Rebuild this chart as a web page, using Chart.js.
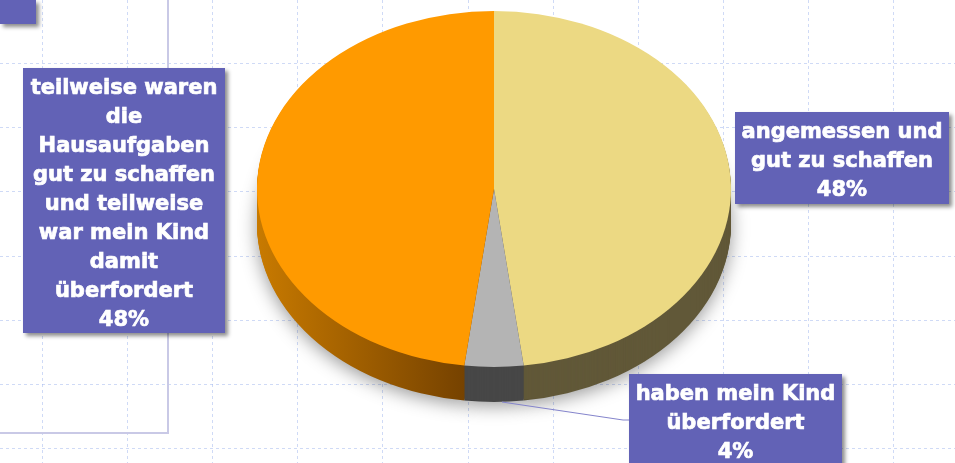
<!DOCTYPE html>
<html>
<head>
<meta charset="utf-8">
<script src="https://cdn.jsdelivr.net/npm/chart.js@4.4.1/dist/chart.umd.min.js"></script>
<style>
    html, body { margin: 0; padding: 0; background: #fff; overflow: hidden; }
    #wrap { position: relative; width: 955px; height: 463px; }
</style>
</head>
<body>
<div id="wrap"><canvas id="chartHausaufgaben"></canvas></div>
<script>
// Daten
const categories = [
    ['angemessen und', 'gut zu schaffen'],
    ['haben mein Kind', 'überfordert'],
    ['teilweise waren', 'die', 'Hausaufgaben', 'gut zu schaffen', 'und teilweise', 'war mein Kind', 'damit', 'überfordert']
];
const values = [48, 4, 48];

// Farben
const topColors = ['#ecd983', '#b4b4b4', '#ff9a00'];
const sideColors = ['#615838', '#474747', ['#c87a00', '#6a3a00']];

// Beschriftungs-Kästen (Position im Bild)
const labelBoxes = [
    { x: 735, y: 112, w: 214, h: 92 },
    { x: 629, y: 374, w: 213, h: 100, leader: true },
    { x: 23, y: 68, w: 202, h: 265 }
];

const TILT = { rx: 237, ry: 178, depth: 35 };
const BOX_COLOR = '#6262b6';

function squash(ctx, arc) {
    const sx = TILT.rx / arc.outerRadius;
    const sy = TILT.ry / arc.outerRadius;
    ctx.translate(arc.x, arc.y);
    ctx.scale(sx, sy);
    ctx.translate(-arc.x, -arc.y);
}

function sideFill(ctx, arc, i) {
    const c = sideColors[i];
    if (!Array.isArray(c)) return c;
    const g = ctx.createLinearGradient(arc.x - arc.outerRadius, 0, arc.x, 0);
    g.addColorStop(0, c[0]);
    g.addColorStop(1, c[1]);
    return g;
}

const pie3d = {
    id: 'pie3d',
    beforeDraw(chart) {
        const ctx = chart.ctx;
        const W = chart.width, H = chart.height;
        ctx.save();
        ctx.fillStyle = '#fff';
        ctx.fillRect(0, 0, W, H);
        // gestricheltes Raster
        ctx.strokeStyle = 'rgba(160,182,238,0.5)';
        ctx.lineWidth = 1;
        ctx.setLineDash([3, 3]);
        for (let x = 42; x < W; x += 85.1) {
            ctx.beginPath();
            ctx.moveTo(Math.round(x) + 0.5, 0);
            ctx.lineTo(Math.round(x) + 0.5, H);
            ctx.stroke();
        }
        for (let y = 63; y < H; y += 64.2) {
            ctx.beginPath();
            ctx.moveTo(0, Math.round(y) + 0.5);
            ctx.lineTo(W, Math.round(y) + 0.5);
            ctx.stroke();
        }
        ctx.setLineDash([]);
        // Rahmenlinie links
        ctx.strokeStyle = '#c9c9e6';
        ctx.lineWidth = 2;
        ctx.beginPath();
        ctx.moveTo(168, 0);
        ctx.lineTo(168, 433);
        ctx.lineTo(0, 433);
        ctx.stroke();
        // Kasten oben links
        ctx.shadowColor = 'rgba(0,0,0,0.45)';
        ctx.shadowBlur = 4;
        ctx.shadowOffsetX = 3;
        ctx.shadowOffsetY = 3;
        ctx.fillStyle = BOX_COLOR;
        ctx.fillRect(0, 0, 36, 24);
        ctx.restore();
    },
    beforeDatasetsDraw(chart) {
        const ctx = chart.ctx;
        const meta = chart.getDatasetMeta(0);
        const arc0 = meta.data[0];
        // Seitenflächen (von unten nach oben)
        for (let d = TILT.depth; d >= 1; d--) {
            ctx.save();
            ctx.translate(0, d);
            squash(ctx, arc0);
            if (d === TILT.depth) {
                ctx.shadowColor = 'rgba(0,0,0,0.4)';
                ctx.shadowBlur = 18;
                ctx.shadowOffsetY = 4;
            }
            meta.data.forEach((arc, i) => {
                const side = Object.create(arc);
                side.options = Object.assign({}, arc.options, { backgroundColor: sideFill(ctx, arc, i) });
                side.draw(ctx);
            });
            ctx.restore();
        }
        ctx.save();
        squash(ctx, arc0);
    },
    afterDatasetsDraw(chart) {
        const ctx = chart.ctx;
        ctx.restore();
        const meta = chart.getDatasetMeta(0);
        const total = values.reduce((a, b) => a + b, 0);
        ctx.save();
        ctx.font = 'bold 21px "DejaVu Sans"';
        ctx.textAlign = 'center';
        ctx.textBaseline = 'alphabetic';
        meta.data.forEach((arc, i) => {
            const box = labelBoxes[i];
            if (box.leader) {
                const mid = (arc.startAngle + arc.endAngle) / 2;
                const px = arc.x + 8 + Math.cos(mid) * TILT.rx;
                const py = arc.y + Math.sin(mid) * TILT.ry + TILT.depth;
                ctx.strokeStyle = '#8484cc';
                ctx.lineWidth = 1;
                ctx.beginPath();
                ctx.moveTo(px, py);
                ctx.lineTo(box.x - 6, box.y + 46);
                ctx.lineTo(box.x, box.y + 46);
                ctx.stroke();
            }
            ctx.save();
            ctx.shadowColor = 'rgba(0,0,0,0.45)';
            ctx.shadowBlur = 4;
            ctx.shadowOffsetX = 3;
            ctx.shadowOffsetY = 3;
            ctx.fillStyle = BOX_COLOR;
            ctx.fillRect(box.x, box.y, box.w, box.h);
            ctx.restore();
            const lines = categories[i].concat([Math.round(values[i] / total * 100) + '%']);
            ctx.fillStyle = '#fff';
            ctx.strokeStyle = '#fff';
            ctx.lineWidth = 0.7;
            lines.forEach((t, k) => {
                const ty = box.y + 26 + k * 29;
                ctx.fillText(t, box.x + box.w / 2, ty);
                ctx.strokeText(t, box.x + box.w / 2, ty);
            });
        });
        ctx.restore();
    }
};

new Chart(document.getElementById('chartHausaufgaben'), {
    type: 'pie',
    data: {
        labels: categories,
        datasets: [{
            data: values,
            backgroundColor: topColors,
            borderWidth: 0
        }]
    },
    options: {
        responsive: true,
        maintainAspectRatio: false,
        animation: false,
        events: [],
        layout: { padding: { left: 33, right: 0, top: 0, bottom: 85 } },
        plugins: {
            legend: { display: false },
            tooltip: { enabled: false }
        }
    },
    plugins: [pie3d]
});
</script>
</body>
</html>
